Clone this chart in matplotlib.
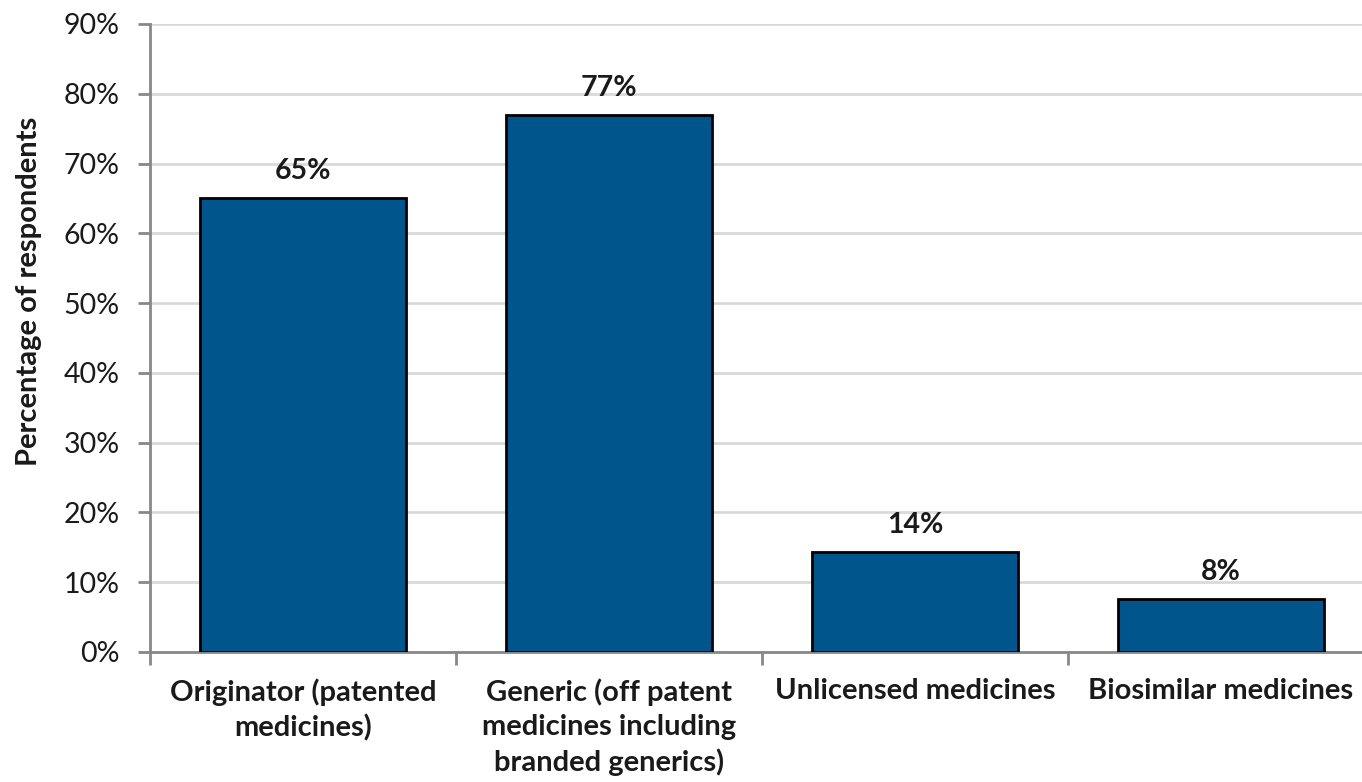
import matplotlib
matplotlib.use("Agg")
import matplotlib.pyplot as plt
from matplotlib.ticker import FuncFormatter, MultipleLocator

categories = ["Originator (patented\nmedicines)",
              "Generic (off patent\nmedicines including\nbranded generics)",
              "Unlicensed medicines",
              "Biosimilar medicines"]
values = [65, 77, 14.3, 7.6]
value_labels = ["65%", "77%", "14%", "8%"]

plt.rcParams['font.family'] = ['Lato', 'DejaVu Sans']

fig = plt.figure(figsize=(13.62, 7.82), dpi=100)
ax = fig.add_axes([150/1362, 130/782, 1224/1362, 628/782])

x = list(range(len(categories)))
bars = ax.bar(x, values, width=0.67, color="#00568C", edgecolor="black", linewidth=2, zorder=3)
for b, lab in zip(bars, value_labels):
    ax.text(b.get_x() + b.get_width()/2, b.get_height() + 2.0, lab,
            ha="center", va="bottom", fontsize=20.5, fontweight="bold", color="#1a1a1a")

ax.set_xlim(-0.5, len(categories) - 0.5)
ax.set_ylim(0, 90)
ax.yaxis.set_major_locator(MultipleLocator(10))
ax.yaxis.set_major_formatter(FuncFormatter(lambda v, p: f"{int(v)}%"))
ax.grid(axis="y", color="#d9d9d9", linewidth=2, zorder=0)
ax.set_axisbelow(True)

ax.set_xticks([i - 0.5 for i in range(len(categories) + 1)])
ax.set_xticklabels([])
ax.set_xticks(x, minor=True)
ax.set_xticklabels(categories, minor=True, fontsize=21, fontweight="bold", color="#1a1a1a", linespacing=1.38)
ax.tick_params(axis="x", which="minor", length=0, pad=19)
ax.tick_params(axis="x", which="major", length=9, width=2, color="#888888", direction="out")
ax.tick_params(axis="y", length=9, width=2, color="#888888", labelsize=20.5, labelcolor="#1a1a1a", pad=13)

for s in ["top", "right"]:
    ax.spines[s].set_visible(False)
for s in ["left", "bottom"]:
    ax.spines[s].set_color("#888888")
    ax.spines[s].set_linewidth(2)

ax.set_ylabel("Percentage of respondents", fontsize=21, fontweight="bold", color="#1a1a1a")
ax.yaxis.set_label_coords(-108/1224, (652 - 291) / 628)

fig.savefig("out.png", dpi=100)
